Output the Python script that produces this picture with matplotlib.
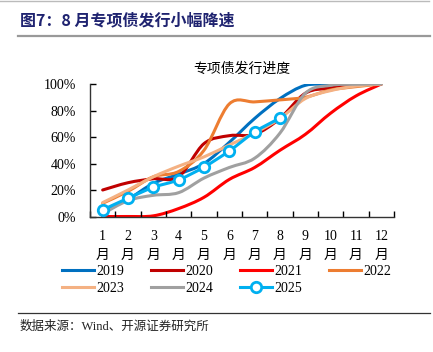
import numpy as np
import matplotlib
matplotlib.use("Agg")
import matplotlib.pyplot as plt
from matplotlib.path import Path
from matplotlib.patches import PathPatch
from matplotlib.lines import Line2D

plt.rcParams["font.family"] = ["Liberation Serif", "Noto Sans CJK SC"]

months = [f"{m}\n月" for m in range(1, 13)]
x = np.arange(1, 13)

y2019 = [4, 13, 25, 32, 40, 56, 74, 89, 99, 99.5, 99.8, 100]
y2020 = [20, 25.5, 28.5, 30, 55, 61, 62, 74, 93, 97, 99, 100]
y2021 = [0, 0, 0.5, 6, 14.5, 28, 37, 50, 62, 78, 91, 100]
y2022 = [10, 19, 30, 34, 50, 85, 86.5, 88, 90, 95.5, 98, 100]
y2023 = [10.5, 20, 30, 38, 45, 54, 63, 74, 89, 95, 98.5, 100]
y2024 = [2, 12, 16, 18, 29, 37, 44, 63, 93, 99, 99.8, 100]
y2025 = [5, 13.8, 22, 27.7, 37.3, 49.5, 63.8, 74.3]

series = [
    ("2019", y2019, "#0070C0"),
    ("2020", y2020, "#C00000"),
    ("2021", y2021, "#FF0000"),
    ("2022", y2022, "#ED7D31"),
    ("2023", y2023, "#F4B183"),
    ("2024", y2024, "#A0A0A0"),
    ("2025", y2025, "#00B0F0"),
]


def smooth_path(xs, ys):
    """Excel-style smoothed line as a cubic Bezier path."""
    pts = np.column_stack([xs, ys]).astype(float)
    n = len(pts)
    verts = [pts[0]]
    codes = [Path.MOVETO]
    for i in range(n - 1):
        p0 = pts[i - 1] if i > 0 else pts[i]
        p1 = pts[i]
        p2 = pts[i + 1]
        p3 = pts[i + 2] if i + 2 < n else pts[i + 1]
        c1 = p1 + (p2 - p0) / 6.0
        c2 = p2 - (p3 - p1) / 6.0
        verts += [c1, c2, p2]
        codes += [Path.CURVE4] * 3
    return Path(verts, codes)


fig = plt.figure(figsize=(4.33, 3.52), dpi=100)
ax = fig.add_axes([90 / 433, 1 - 216.5 / 352, 304 / 433, 132.5 / 352])

handles = {}
for name, ys, color in series:
    xs = x[: len(ys)]
    vals = np.array(ys) / 100.0
    ax.add_patch(PathPatch(smooth_path(xs, vals), facecolor="none",
                           edgecolor=color, lw=2.2, capstyle="round",
                           joinstyle="round"))
    if name == "2025":
        ax.plot(xs, vals, ls="none", marker="o", ms=7.5, mfc="white",
                mec=color, mew=2, zorder=5)
        handles[name] = Line2D([], [], color=color, lw=2.2, marker="o",
                               ms=7.5, mfc="white", mec=color, mew=2)
    else:
        handles[name] = Line2D([], [], color=color, lw=2.2)

ax.set_xlim(0.5, 12.5)
ax.set_ylim(0, 1)
ax.set_yticks(np.linspace(0, 1, 6))
ax.set_yticklabels([f"{v}%" for v in range(0, 101, 20)], fontsize=10)
ax.set_xticks(x)
ax.set_xticklabels(months, fontsize=10, linespacing=1.6)
ax.set_xticks(np.arange(0.5, 13, 1), minor=True)
ax.tick_params(axis="x", which="major", length=0, pad=10)
ax.tick_params(axis="x", which="minor", direction="in", length=4, width=1)
ax.tick_params(axis="y", direction="in", length=4, width=1, pad=10)
for s in ["top", "right"]:
    ax.spines[s].set_visible(False)
for s in ["left", "bottom"]:
    ax.spines[s].set_color("#333333")
    ax.spines[s].set_linewidth(1)
ax.set_title("专项债发行进度", fontsize=10, pad=8,
             family=["Noto Sans CJK SC"])

order = ["2019", "2023", "2020", "2024", "2021", "2025", "2022"]
fig.legend([handles[k] for k in order], order, ncol=4, frameon=False,
           loc="upper left", bbox_to_anchor=(62 / 433, 1 - 265 / 352),
           fontsize=10, handlelength=2.3, handletextpad=0.2,
           columnspacing=1.9, labelspacing=0.3, borderaxespad=0,
           borderpad=0)

# header / footer decorations
fig.add_artist(Line2D([0, 0.99], [0.998, 0.998], color="#BBBBBB", lw=1))
fig.text(20 / 433, 1 - 20 / 352, "图7：8 月专项债发行小幅降速", fontsize=11.5,
         fontweight="bold", color="#1F2370", va="center",
         family=["Noto Sans CJK SC"])
fig.add_artist(Line2D([18 / 433, 430 / 433], [1 - 35.5 / 352] * 2,
                      color="#999999", lw=1.6))
fig.add_artist(Line2D([18 / 433, 430 / 433], [1 - 313 / 352] * 2,
                      color="#333333", lw=0.9))
fig.text(20 / 433, 1 - 327 / 352, "数据来源：Wind、开源证券研究所", fontsize=9,
         color="#222222", va="center")

fig.savefig("out.png", dpi=100)
